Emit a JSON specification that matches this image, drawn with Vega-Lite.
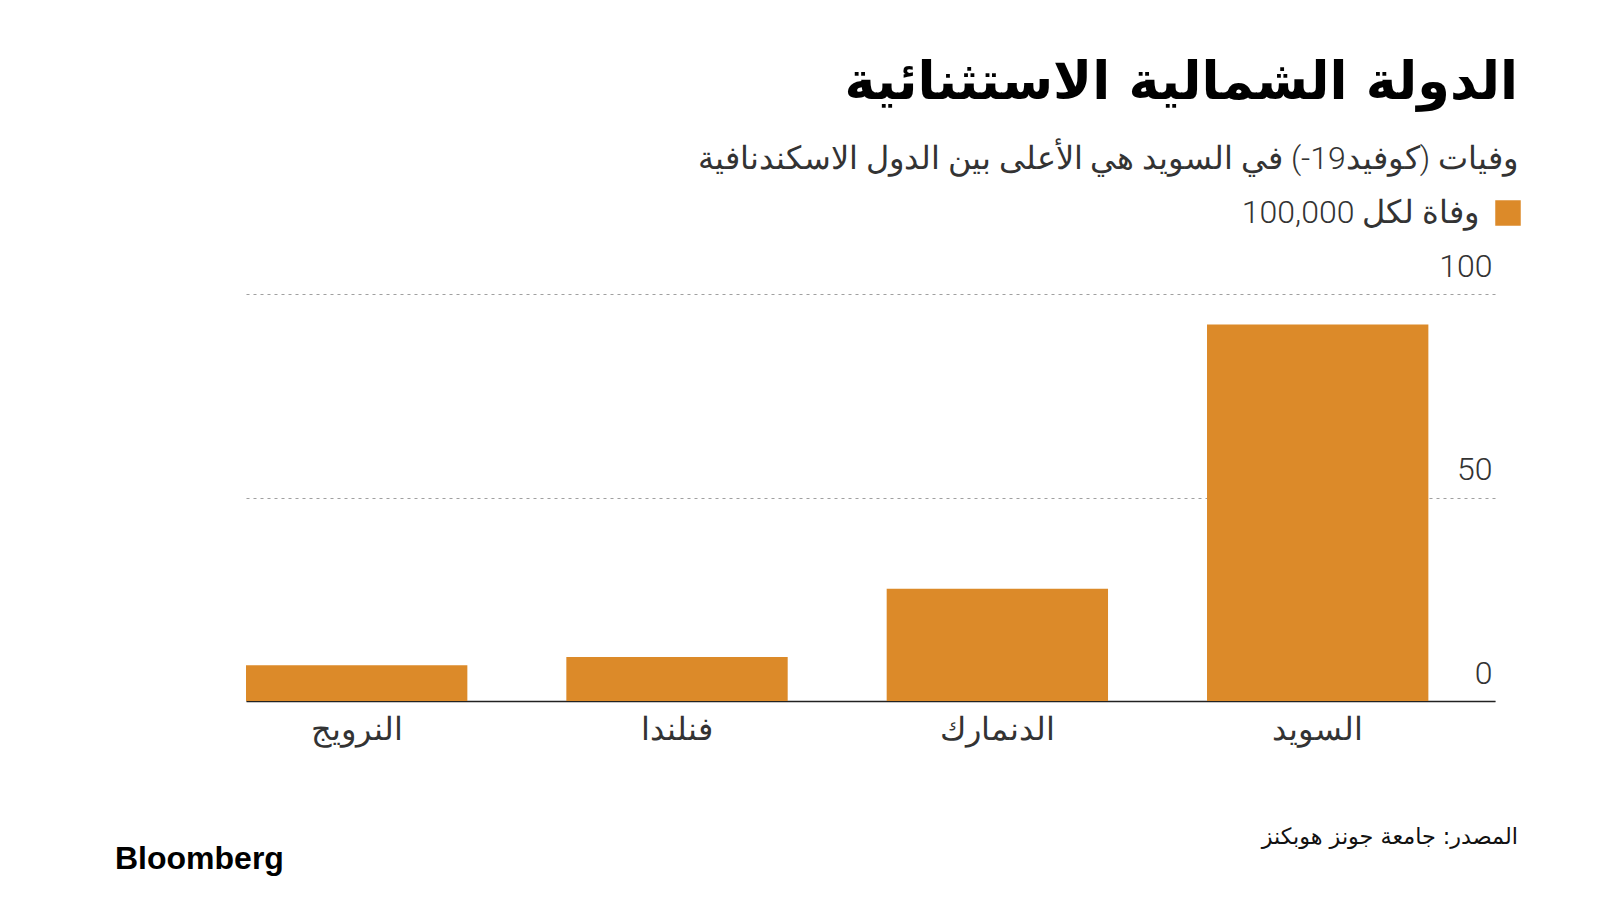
{
  "$schema": "https://vega.github.io/schema/vega-lite/v6.json",
  "width": 1249,
  "height": 407,
  "autosize": {"type": "none"},
  "padding": {"left": 246, "top": 294, "right": 105, "bottom": 199},
  "background": "#ffffff",
  "config": {"view": {"stroke": null}},
  "title": {
    "text": "الدولة الشمالية الاستثنائية",
    "subtitle": "وفيات (كوفيد19-) في السويد هي الأعلى بين الدول الاسكندنافية",
    "anchor": "end",
    "frame": "group",
    "dx": 23,
    "offset": 21,
    "font": "DejaVu Sans",
    "fontSize": 52.5,
    "fontWeight": "bold",
    "color": "#000000",
    "subtitleFont": "Roboto, DejaVu Sans",
    "subtitleFontSize": 32,
    "subtitleFontWeight": 300,
    "subtitleColor": "#333333",
    "subtitlePadding": 34
  },
  "data": {
    "values": [
      {"country": "النرويج", "deaths": 8.8, "series": "وفاة لكل 100,000"},
      {"country": "فنلندا", "deaths": 10.8, "series": "وفاة لكل 100,000"},
      {"country": "الدنمارك", "deaths": 27.6, "series": "وفاة لكل 100,000"},
      {"country": "السويد", "deaths": 92.5, "series": "وفاة لكل 100,000"}
    ]
  },
  "layer": [
    {
      "mark": {"type": "bar"},
      "encoding": {
        "x": {
          "field": "country",
          "type": "nominal",
          "sort": ["النرويج", "فنلندا", "الدنمارك", "السويد"],
          "scale": {"paddingInner": 0.309, "paddingOuter": 0.104, "align": 0},
          "axis": {
            "title": null,
            "labelAngle": 0,
            "ticks": false,
            "domain": true,
            "domainColor": "#222222",
            "domainWidth": 1.5,
            "labelFont": "Roboto, DejaVu Sans",
            "labelFontWeight": 300,
            "labelFontSize": 31.5,
            "labelColor": "#333333",
            "labelPadding": 13,
            "grid": false
          }
        },
        "y": {
          "field": "deaths",
          "type": "quantitative",
          "scale": {"domain": [0, 100], "nice": false},
          "axis": {
            "orient": "right",
            "title": null,
            "values": [0, 50, 100],
            "grid": true,
            "gridDash": [3, 4],
            "gridColor": "#a0a0a0",
            "gridWidth": 1.2,
            "domain": false,
            "ticks": false,
            "labelAlign": "right",
            "labelBaseline": "bottom",
            "labelOffset": -11,
            "labelPadding": -3,
            "labelFont": "Roboto",
            "labelFontWeight": 300,
            "labelFontSize": 32,
            "labelColor": "#333333"
          }
        },
        "color": {
          "field": "series",
          "type": "nominal",
          "scale": {"range": ["#dc8a29"]},
          "legend": {
            "orient": "none",
            "legendX": 1246,
            "legendY": -97,
            "title": null,
            "symbolType": "square",
            "symbolSize": 650,
            "symbolStrokeWidth": 0,
            "symbolOpacity": 1,
            "labelAlign": "right",
            "labelOffset": -45,
            "labelFont": "Roboto, DejaVu Sans",
            "labelFontWeight": 300,
            "labelFontSize": 32,
            "labelColor": "#333333",
            "labelLimit": 0
          }
        }
      }
    },
    {
      "data": {"values": [{"t": "المصدر: جامعة جونز هوبكنز"}]},
      "mark": {"type": "text", "align": "right", "baseline": "middle", "font": "DejaVu Sans", "fontSize": 22.3, "color": "#111111"},
      "encoding": {
        "text": {"field": "t"},
        "x": {"value": 1272},
        "y": {"value": 543}
      }
    },
    {
      "data": {"values": [{"t": "Bloomberg"}]},
      "mark": {"type": "text", "align": "left", "baseline": "middle", "font": "Liberation Sans", "fontWeight": "bold", "fontSize": 32, "letterSpacing": -1.6, "color": "#000000"},
      "encoding": {
        "text": {"field": "t"},
        "x": {"value": -131},
        "y": {"value": 565}
      }
    }
  ]
}
